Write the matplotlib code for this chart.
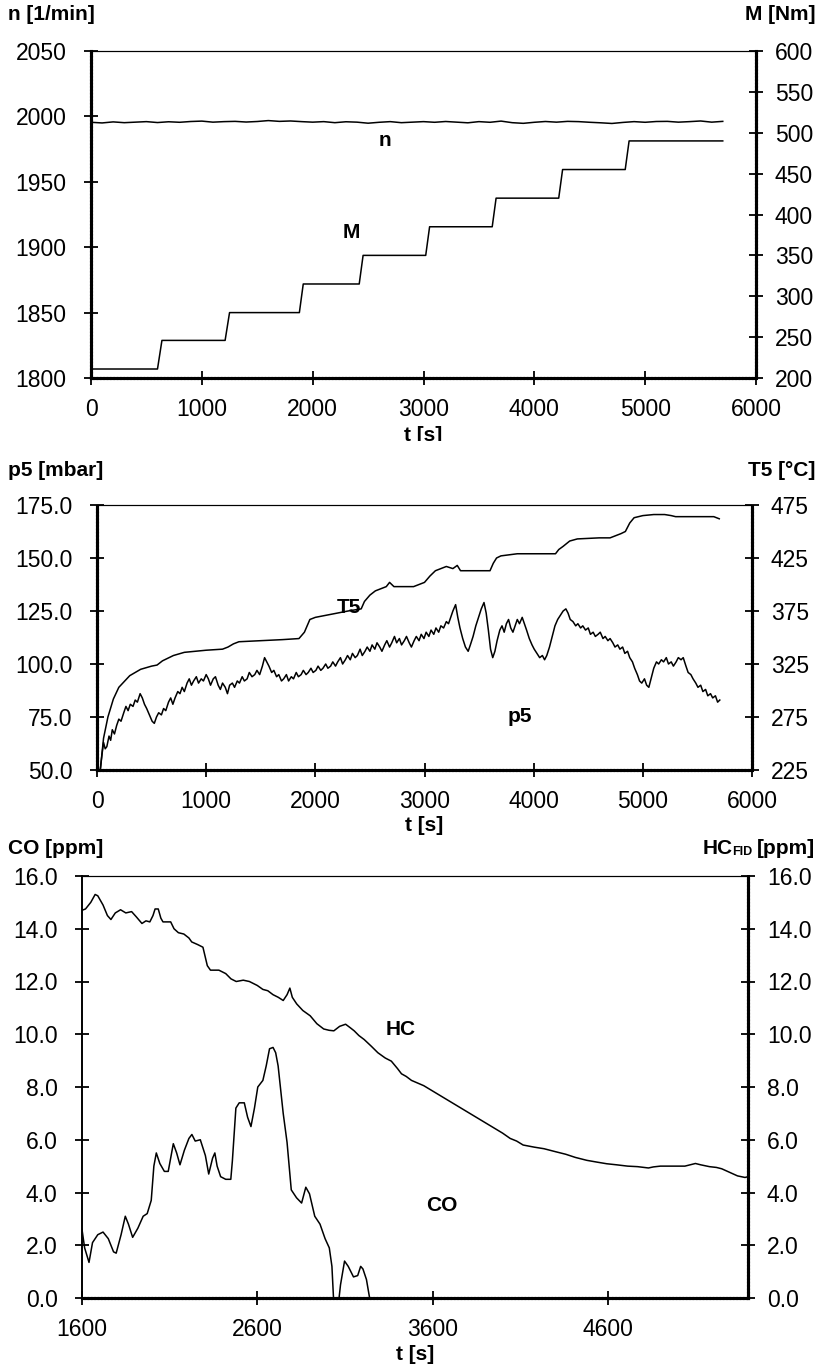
import matplotlib
matplotlib.use('Agg')
import matplotlib.pyplot as plt
from matplotlib.ticker import FormatStrFormatter, FixedLocator
from matplotlib.patches import Rectangle

FONT = ['Liberation Sans Narrow', 'Liberation Sans', 'DejaVu Sans']
plt.rcParams['font.family'] = FONT

# ---------------- data ----------------
# panel 1: engine speed n [1/min] (sampled every 100 s) and torque M [Nm]
n_vals = [1995.5, 1995.0, 1995.8, 1995.2, 1995.6, 1996.0, 1995.3, 1995.9, 1995.5, 1996.1,
          1996.4, 1995.6, 1996.0, 1996.2, 1995.7, 1996.1, 1996.8, 1996.2, 1996.5, 1996.0,
          1995.6, 1996.0, 1995.2, 1995.9, 1995.6, 1994.8, 1995.5, 1996.0, 1995.2, 1995.6,
          1996.0, 1995.5, 1996.1, 1995.6, 1995.1, 1996.0, 1995.5, 1996.4, 1995.2, 1994.7,
          1995.5, 1996.1, 1995.6, 1996.2, 1996.0, 1995.5, 1995.1, 1994.6, 1995.4, 1996.0,
          1995.5, 1996.1, 1996.2, 1995.6, 1996.0, 1996.5, 1995.6, 1996.2]
n_t = [100 * i for i in range(len(n_vals))]

M_t = [0, 600, 640, 1210, 1250, 1880, 1915, 2420, 2455, 3020, 3055, 3620, 3655,
       4220, 4255, 4820, 4855, 5700]
M_v = [211, 211, 246, 246, 280, 280, 315, 315, 350, 350, 385, 385, 420, 420,
       455, 455, 490, 490]

n_ticks = [1800, 1850, 1900, 1950, 2000, 2050]
M_ticks = [200, 250, 300, 350, 400, 450, 500, 550, 600]
t_ticks = [0, 1000, 2000, 3000, 4000, 5000, 6000]

# panel 2: exhaust back pressure p5 [mbar], exhaust temperature T5 [°C]
T5_t = [30, 60, 100, 150, 200, 300, 400, 500, 550, 600, 700, 800, 1000, 1150, 1200, 1250,
        1300, 1500, 1700, 1850, 1900, 1950, 2000, 2150, 2300, 2420, 2450, 2500, 2550, 2650,
        2680, 2720, 2900, 3000, 3050, 3100, 3200, 3260, 3300, 3330, 3600, 3630, 3660, 3700,
        3850, 4000, 4200, 4230, 4270, 4330, 4400, 4600, 4700, 4800, 4840, 4880, 4920, 5000,
        5100, 5200, 5260, 5300, 5500, 5650, 5700]
T5_v = [225, 255, 275, 292, 303, 314, 320, 323, 324, 328, 333, 336, 338, 339, 341, 344,
        346, 347, 348, 349, 355, 367, 369, 372, 375, 377, 384, 390, 394, 398,
        402, 398, 398, 402, 408, 413, 417, 415, 418, 413, 413, 420, 425, 427,
        429, 429, 429, 433, 436, 441, 443, 444, 444, 448, 450, 458, 463, 465,
        466, 466, 465, 464, 464, 464, 462]

p5_points = [
    (30, 50), (45, 57), (60, 63), (75, 60), (90, 61), (110, 66), (125, 64), (140, 69),
    (160, 67), (180, 71), (200, 74), (220, 73), (245, 77), (265, 80), (285, 78), (305, 81),
    (330, 80), (350, 83), (370, 82), (395, 86), (415, 84), (435, 81), (455, 79), (480, 76),
    (505, 73), (525, 72), (545, 75), (565, 77), (590, 76), (610, 79), (630, 78), (655, 82),
    (675, 84), (695, 81), (715, 84), (740, 87), (760, 86), (780, 89), (800, 87), (825, 91),
    (845, 93), (865, 90), (885, 92), (910, 94), (930, 91), (955, 93), (975, 92), (1000, 95),
    (1020, 93), (1040, 90), (1065, 93), (1085, 94), (1110, 90), (1130, 88), (1150, 91),
    (1175, 89), (1195, 86), (1215, 90), (1240, 91), (1260, 89), (1285, 92), (1305, 91),
    (1330, 94), (1350, 92), (1375, 93), (1395, 96), (1420, 94), (1445, 95), (1465, 97),
    (1490, 95), (1515, 99), (1535, 103), (1555, 101), (1575, 99), (1600, 96), (1620, 97),
    (1645, 94), (1665, 95), (1690, 92), (1710, 93), (1735, 95), (1755, 92), (1780, 94),
    (1800, 93), (1825, 96), (1845, 94), (1870, 95), (1890, 97), (1915, 95), (1935, 96),
    (1960, 98), (1980, 96), (2005, 97), (2025, 99), (2050, 97), (2070, 98), (2095, 100),
    (2115, 98), (2140, 99), (2160, 101), (2185, 99), (2205, 101), (2230, 103), (2250, 100),
    (2275, 102), (2295, 104), (2320, 102), (2340, 105), (2365, 103), (2385, 104),
    (2410, 107), (2430, 104), (2455, 106), (2475, 108), (2500, 106), (2520, 109),
    (2545, 107), (2565, 110), (2590, 108), (2610, 106), (2635, 109), (2655, 111),
    (2680, 108), (2700, 110), (2725, 113), (2745, 110), (2770, 112), (2790, 109),
    (2815, 111), (2835, 113), (2860, 110), (2880, 108), (2905, 111), (2925, 113),
    (2950, 111), (2970, 114), (2995, 112), (3015, 115), (3040, 113), (3060, 116),
    (3085, 114), (3105, 117), (3130, 115), (3150, 118), (3175, 117), (3200, 120),
    (3220, 119), (3240, 122), (3260, 125), (3285, 128), (3305, 122), (3325, 117),
    (3350, 112), (3375, 108), (3400, 106), (3420, 109), (3445, 113), (3470, 118),
    (3495, 122), (3520, 126), (3545, 129), (3565, 124), (3585, 116), (3605, 107),
    (3625, 103), (3645, 106), (3665, 111), (3690, 116), (3710, 118), (3730, 115),
    (3750, 119), (3770, 121), (3790, 117), (3810, 115), (3830, 118), (3850, 121),
    (3870, 119), (3895, 122), (3915, 119), (3935, 116), (3960, 112), (3985, 109),
    (4005, 107), (4030, 105), (4055, 103), (4080, 104), (4100, 102), (4120, 104),
    (4145, 108), (4170, 113), (4195, 118), (4220, 121), (4245, 123), (4270, 125),
    (4295, 126), (4315, 124), (4335, 121), (4360, 120), (4385, 118), (4405, 119),
    (4430, 117), (4450, 118), (4475, 116), (4500, 117), (4520, 114), (4545, 115),
    (4565, 113), (4590, 114), (4610, 115), (4635, 112), (4655, 113), (4680, 111),
    (4700, 112), (4725, 110), (4745, 108), (4770, 109), (4790, 107), (4815, 108),
    (4835, 105), (4860, 106), (4880, 103), (4905, 101), (4925, 98), (4950, 95),
    (4970, 92), (4990, 91), (5015, 93), (5035, 90), (5055, 89), (5080, 94), (5100, 98),
    (5125, 101), (5145, 100), (5170, 102), (5190, 101), (5215, 103), (5235, 100),
    (5260, 101), (5280, 99), (5305, 101), (5325, 103), (5350, 102), (5370, 103),
    (5395, 99), (5415, 96), (5440, 95), (5460, 93), (5485, 91), (5505, 89), (5530, 90),
    (5550, 87), (5575, 88), (5595, 85), (5620, 86), (5640, 84), (5665, 85), (5685, 82),
    (5705, 83)]
p5_t = [p[0] for p in p5_points]
p5_v = [p[1] for p in p5_points]

p5_ticks = [50, 75, 100, 125, 150, 175]
T5_ticks = [225, 275, 325, 375, 425, 475]

# panel 3: CO [ppm] and HC_FID [ppm]
CO_t = [1600, 1615, 1640, 1660, 1690, 1720, 1750, 1780, 1795, 1823, 1847, 1865, 1889,
        1919, 1949, 1972, 1995, 2010, 2024, 2044, 2070, 2092, 2121, 2140, 2159, 2184,
        2210, 2227, 2246, 2275, 2304, 2323, 2345, 2358, 2371, 2391, 2420, 2449, 2458,
        2478, 2497, 2526, 2545, 2564, 2584, 2603, 2632, 2651, 2670, 2690, 2705, 2719,
        2748, 2770, 2794, 2824, 2853, 2877, 2898, 2928, 2958, 2987, 3011, 3026, 3035,
        3050, 3065, 3075, 3098, 3119, 3149, 3173, 3190, 3203, 3223, 3241, 3260]
CO_v = [2.6, 1.9, 1.35, 2.1, 2.4, 2.5, 2.25, 1.75, 1.7, 2.4, 3.1, 2.8, 2.3,
        2.65, 3.1, 3.2, 3.7, 5.0, 5.5, 5.1, 4.8, 4.8, 5.85, 5.5, 5.05, 5.6,
        6.05, 6.2, 5.95, 6.0, 5.4, 4.7, 5.3, 5.5, 5.0, 4.6, 4.5, 4.5, 5.2,
        7.2, 7.4, 7.4, 6.85, 6.5, 7.2, 8.0, 8.25, 8.8, 9.45, 9.5, 9.3, 8.8,
        7.0, 5.9, 4.1, 3.8, 3.6, 4.2, 3.95, 3.1, 2.8, 2.25, 1.9, 1.2, 0.0,
        -0.5, -0.1, 0.5, 1.4, 1.2, 0.8, 0.85, 1.2, 1.1, 0.7, 0.0, -0.5]

HC_t = [1600, 1620, 1650, 1675, 1690, 1720, 1745, 1765, 1790, 1820, 1850, 1883, 1910,
        1942, 1965, 1987, 2005, 2017, 2035, 2050, 2062, 2106, 2125, 2150, 2181, 2210,
        2226, 2260, 2290, 2315, 2333, 2381, 2420, 2450, 2480, 2520, 2555, 2600, 2632,
        2660, 2690, 2720, 2748, 2770, 2786, 2800, 2825, 2860, 2902, 2940, 2979, 3010,
        3037, 3070, 3104, 3130, 3153, 3180, 3210, 3250, 3288, 3330, 3365, 3400, 3423,
        3450, 3480, 3550, 3600, 3650, 3700, 3750, 3800, 3850, 3900, 3950, 4000, 4043,
        4080, 4117, 4180, 4236, 4300, 4360, 4415, 4480, 4540, 4594, 4650, 4713, 4770,
        4832, 4860, 4900, 4950, 5000, 5040, 5070, 5100, 5130, 5180, 5220, 5250, 5300,
        5340, 5383, 5400]
HC_v = [14.7, 14.75, 15.0, 15.3, 15.25, 14.9, 14.5, 14.35, 14.6, 14.72, 14.6, 14.65, 14.45,
        14.2, 14.3, 14.26, 14.5, 14.75, 14.75, 14.4, 14.26, 14.26, 14.0, 13.85, 13.8, 13.65,
        13.5, 13.4, 13.3, 12.6, 12.43, 12.43, 12.3, 12.1, 12.0, 12.05, 12.0, 11.85, 11.7,
        11.65, 11.5, 11.4, 11.28, 11.5, 11.75, 11.4, 11.15, 10.9, 10.7, 10.4, 10.2, 10.15,
        10.13, 10.3, 10.38, 10.25, 10.13, 9.95, 9.8, 9.55, 9.3, 9.1, 8.98, 8.7, 8.5,
        8.4, 8.25, 8.05, 7.85, 7.65, 7.45, 7.25, 7.05, 6.85, 6.65, 6.45, 6.25, 6.05,
        5.95, 5.8, 5.72, 5.66, 5.55, 5.45, 5.33, 5.22, 5.15, 5.09, 5.05, 5.0, 4.98,
        4.93, 4.97, 5.0, 5.0, 5.0, 5.0, 5.05, 5.1, 5.05, 4.98, 4.95, 4.9, 4.75,
        4.63, 4.57, 4.6]

ppm_ticks = [0, 2, 4, 6, 8, 10, 12, 14, 16]
t3_ticks = [1600, 2600, 3600, 4600]

# ---------------- figure ----------------
W, H = 822, 1368
fig = plt.figure(figsize=(W / 100, H / 100), dpi=100)


def rect(l, t, r, b):
    return [l / W, 1 - b / H, (r - l) / W, (b - t) / H]


TICK_FS = 16.5
LAB_FS = 15
LW = 1.1
HATCH = (0, (0.55, 0.55))


def style(ax, axr, left_solid=False):
    for a in (ax, axr):
        a.spines['top'].set_linestyle((0, (1, 1)))
        a.spines['top'].set_linewidth(0.8)
        a.spines['bottom'].set_linestyle(HATCH)
        a.spines['bottom'].set_linewidth(2.2)
        a.spines['left'].set_linewidth(1.2 if left_solid else 2.2)
        if not left_solid:
            a.spines['left'].set_linestyle(HATCH)
        a.spines['right'].set_linestyle(HATCH)
        a.spines['right'].set_linewidth(2.2)
        a.tick_params(direction='inout', length=10, width=1.3, labelsize=TICK_FS,
                      colors='black')
    ax.tick_params(axis='x', pad=9.5)
    ax.tick_params(axis='y', pad=12.5)
    axr.tick_params(axis='y', pad=8.5)


def fig_text(x, y, s, ha='left', **kw):
    return fig.text(x / W, 1 - y / H, s, ha=ha, va='center', fontsize=LAB_FS,
                    fontweight='bold', **kw)


def in_label(ax, x, y, s):
    ax.text(x, y, s, transform=ax.transAxes, fontsize=LAB_FS, fontweight='bold',
            ha='center', va='center')


# ---- panel 1 ----
ax1 = fig.add_axes(rect(91, 51, 756, 378))
ax1r = ax1.twinx()
ax1.plot(n_t, n_vals, color='black', lw=LW)
ax1r.plot(M_t, M_v, color='black', lw=LW)
ax1.set_xlim(t_ticks[0], t_ticks[-1])
ax1.set_ylim(n_ticks[0], n_ticks[-1])
ax1r.set_ylim(M_ticks[0], M_ticks[-1])
ax1.xaxis.set_major_locator(FixedLocator(t_ticks))
ax1.yaxis.set_major_locator(FixedLocator(n_ticks))
ax1r.yaxis.set_major_locator(FixedLocator(M_ticks))
style(ax1, ax1r)
in_label(ax1, 0.442, 0.725, 'n')
in_label(ax1, 0.392, 0.445, 'M')
fig_text(8, 15, 'n [1/min]')
fig_text(815, 15, 'M [Nm]', ha='right')
fig_text(423, 436, 't [s]', ha='center')
fig.patches.append(Rectangle((0, 1 - 458 / H), 1, 17 / H, transform=fig.transFigure,
                             facecolor='white', edgecolor='none', zorder=10))

# ---- panel 2 ----
ax2 = fig.add_axes(rect(97, 505, 752, 770))
ax2r = ax2.twinx()
ax2.plot(p5_t, p5_v, color='black', lw=LW)
ax2r.plot(T5_t, T5_v, color='black', lw=LW)
ax2.set_xlim(t_ticks[0], t_ticks[-1])
ax2.set_ylim(p5_ticks[0], p5_ticks[-1])
ax2r.set_ylim(T5_ticks[0], T5_ticks[-1])
ax2.xaxis.set_major_locator(FixedLocator(t_ticks))
ax2.yaxis.set_major_locator(FixedLocator(p5_ticks))
ax2.yaxis.set_major_formatter(FormatStrFormatter('%.1f'))
ax2r.yaxis.set_major_locator(FixedLocator(T5_ticks))
style(ax2, ax2r)
in_label(ax2, 0.385, 0.615, 'T5')
in_label(ax2, 0.645, 0.2, 'p5')
fig_text(8, 471, 'p5 [mbar]')
fig_text(815, 471, 'T5 [°C]', ha='right')
fig_text(424, 826, 't [s]', ha='center')

# ---- panel 3 ----
ax3 = fig.add_axes(rect(82, 876, 748, 1298))
ax3r = ax3.twinx()
ax3.plot(CO_t, CO_v, color='black', lw=LW)
ax3r.plot(HC_t, HC_v, color='black', lw=LW)
ax3.set_xlim(1600, 5400)
ax3.set_ylim(ppm_ticks[0], ppm_ticks[-1])
ax3r.set_ylim(ppm_ticks[0], ppm_ticks[-1])
ax3.xaxis.set_major_locator(FixedLocator(t3_ticks))
for a in (ax3, ax3r):
    a.yaxis.set_major_locator(FixedLocator(ppm_ticks))
    a.yaxis.set_major_formatter(FormatStrFormatter('%.1f'))
style(ax3, ax3r, left_solid=True)
in_label(ax3, 0.479, 0.637, 'HC')
in_label(ax3, 0.54, 0.22, 'CO')
fig_text(8, 849, 'CO [ppm]')
ppm = fig_text(815, 849, '[ppm]', ha='right')
fid = ax3.annotate('FID', xy=(0, 0.02), xycoords=ppm, xytext=(-3, 0),
                   textcoords='offset points', fontsize=9, fontweight='bold',
                   ha='right', va='bottom', annotation_clip=False)
ax3.annotate('HC', xy=(0, 0.5), xycoords=(fid, ppm), fontsize=LAB_FS,
             fontweight='bold', ha='right', va='center', annotation_clip=False)
fig_text(415, 1355, 't [s]', ha='center')

fig.savefig('out.png', dpi=100, facecolor='white')
